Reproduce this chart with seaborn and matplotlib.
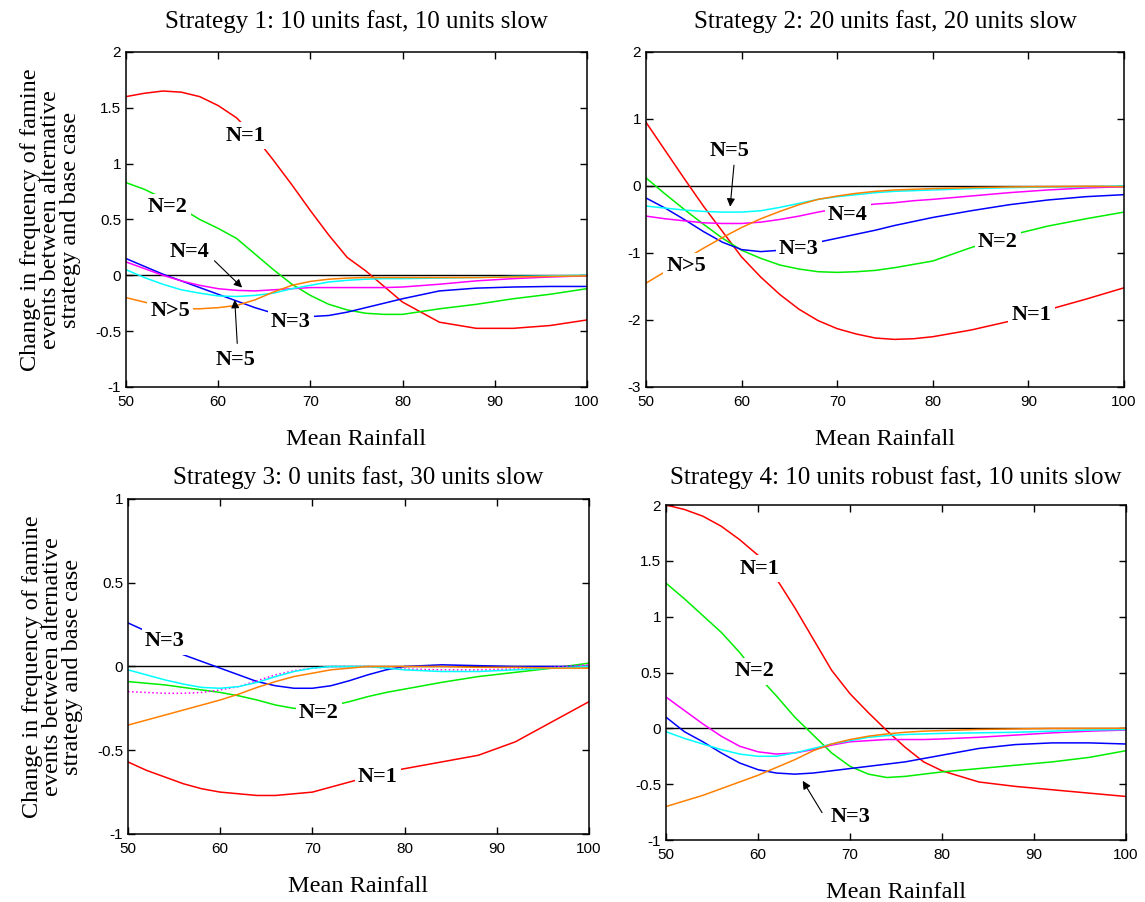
import matplotlib
matplotlib.use("Agg")
import matplotlib.pyplot as plt
import matplotlib.patheffects as pe
from matplotlib import font_manager
from matplotlib.ticker import FormatStrFormatter, MultipleLocator
import numpy as np
import pandas as pd
import seaborn as sns

# mean rainfall sample points (shared by every curve)
rainfall = [50, 52, 54, 56, 58, 60, 62, 64, 66, 68, 70, 72, 74, 76, 78, 80, 84, 88, 92, 96, 100]
series_names = ["N=1", "N=2", "N=3", "N=4", "N=5", "N>5"]

# Strategy 1: 10 units fast, 10 units slow
s1_n1 = [1.60, 1.63, 1.65, 1.64, 1.60, 1.52, 1.41, 1.24, 1.03, 0.81, 0.58, 0.36, 0.16, 0.04, -0.10, -0.24, -0.42, -0.475, -0.475, -0.45, -0.40]
s1_n2 = [0.83, 0.77, 0.69, 0.60, 0.50, 0.42, 0.33, 0.19, 0.05, -0.08, -0.18, -0.26, -0.31, -0.34, -0.35, -0.35, -0.30, -0.26, -0.21, -0.17, -0.12]
s1_n3 = [0.15, 0.08, 0.01, -0.05, -0.11, -0.17, -0.23, -0.29, -0.34, -0.37, -0.37, -0.36, -0.33, -0.29, -0.25, -0.21, -0.14, -0.115, -0.105, -0.10, -0.10]
s1_n4 = [0.12, 0.06, 0.0, -0.05, -0.09, -0.12, -0.135, -0.14, -0.13, -0.12, -0.11, -0.11, -0.11, -0.11, -0.11, -0.105, -0.08, -0.05, -0.03, -0.015, -0.005]
s1_n5 = [0.05, -0.02, -0.08, -0.13, -0.16, -0.185, -0.19, -0.18, -0.16, -0.12, -0.09, -0.06, -0.045, -0.035, -0.03, -0.03, -0.025, -0.02, -0.01, -0.005, 0.0]
s1_n6 = [-0.20, -0.24, -0.28, -0.30, -0.30, -0.29, -0.27, -0.22, -0.15, -0.09, -0.055, -0.035, -0.025, -0.02, -0.02, -0.02, -0.02, -0.02, -0.015, -0.01, -0.005]

# Strategy 2: 20 units fast, 20 units slow
s2_n1 = [0.95, 0.53, 0.11, -0.30, -0.68, -1.06, -1.36, -1.62, -1.84, -2.01, -2.13, -2.21, -2.27, -2.29, -2.28, -2.25, -2.15, -2.02, -1.85, -1.69, -1.52]
s2_n2 = [0.12, -0.12, -0.35, -0.57, -0.78, -0.96, -1.08, -1.18, -1.24, -1.28, -1.29, -1.28, -1.26, -1.22, -1.17, -1.12, -0.92, -0.74, -0.60, -0.49, -0.39]
s2_n3 = [-0.18, -0.33, -0.50, -0.68, -0.84, -0.95, -0.98, -0.96, -0.90, -0.84, -0.78, -0.72, -0.66, -0.59, -0.53, -0.47, -0.37, -0.28, -0.21, -0.16, -0.13]
s2_n4 = [-0.45, -0.49, -0.52, -0.55, -0.56, -0.56, -0.54, -0.50, -0.45, -0.39, -0.34, -0.30, -0.27, -0.25, -0.22, -0.20, -0.15, -0.10, -0.06, -0.03, -0.01]
s2_n5 = [-0.30, -0.33, -0.36, -0.38, -0.39, -0.39, -0.37, -0.32, -0.26, -0.20, -0.16, -0.13, -0.10, -0.08, -0.07, -0.06, -0.04, -0.025, -0.015, -0.01, 0.0]
s2_n6 = [-1.45, -1.28, -1.10, -0.93, -0.77, -0.62, -0.49, -0.38, -0.28, -0.20, -0.15, -0.11, -0.08, -0.06, -0.05, -0.04, -0.025, -0.015, -0.01, -0.005, -0.01]

# Strategy 3: 0 units fast, 30 units slow
s3_n1 = [-0.57, -0.62, -0.66, -0.70, -0.73, -0.75, -0.76, -0.77, -0.77, -0.76, -0.75, -0.72, -0.69, -0.66, -0.63, -0.61, -0.57, -0.53, -0.45, -0.33, -0.21]
s3_n2 = [-0.09, -0.10, -0.11, -0.125, -0.14, -0.155, -0.175, -0.20, -0.23, -0.25, -0.25, -0.235, -0.21, -0.18, -0.155, -0.135, -0.095, -0.06, -0.035, -0.01, 0.02]
s3_n3 = [0.26, 0.21, 0.13, 0.07, 0.03, -0.01, -0.05, -0.09, -0.115, -0.13, -0.13, -0.115, -0.085, -0.05, -0.02, 0.0, 0.01, 0.005, 0.0, 0.0, 0.0]
s3_n4 = [-0.15, -0.155, -0.16, -0.16, -0.155, -0.14, -0.12, -0.085, -0.05, -0.025, -0.01, 0.0, 0.0, 0.0, -0.01, -0.015, -0.02, -0.02, -0.015, -0.005, 0.01]
s3_n5 = [-0.02, -0.05, -0.08, -0.105, -0.125, -0.13, -0.12, -0.095, -0.06, -0.03, -0.01, 0.0, 0.0, 0.0, -0.01, -0.02, -0.03, -0.03, -0.02, -0.01, 0.0]
s3_n6 = [-0.35, -0.32, -0.29, -0.26, -0.23, -0.20, -0.165, -0.125, -0.09, -0.06, -0.04, -0.02, -0.01, 0.0, 0.0, 0.0, 0.0, -0.005, -0.005, -0.01, -0.01]

# Strategy 4: 10 units robust fast, 10 units slow
s4_n1 = [2.0, 1.96, 1.90, 1.81, 1.69, 1.55, 1.34, 1.08, 0.80, 0.52, 0.31, 0.14, -0.02, -0.17, -0.30, -0.38, -0.48, -0.52, -0.55, -0.58, -0.61]
s4_n2 = [1.30, 1.16, 1.01, 0.86, 0.68, 0.47, 0.29, 0.10, -0.06, -0.22, -0.34, -0.41, -0.44, -0.43, -0.41, -0.39, -0.36, -0.33, -0.30, -0.26, -0.20]
s4_n3 = [0.10, -0.03, -0.12, -0.22, -0.31, -0.37, -0.40, -0.41, -0.40, -0.38, -0.36, -0.34, -0.32, -0.30, -0.27, -0.24, -0.18, -0.145, -0.13, -0.13, -0.14]
s4_n4 = [0.28, 0.16, 0.04, -0.07, -0.16, -0.21, -0.23, -0.22, -0.19, -0.15, -0.12, -0.11, -0.10, -0.10, -0.10, -0.095, -0.08, -0.06, -0.04, -0.025, -0.015]
s4_n5 = [-0.03, -0.09, -0.14, -0.19, -0.23, -0.25, -0.25, -0.22, -0.18, -0.14, -0.11, -0.08, -0.065, -0.055, -0.05, -0.045, -0.04, -0.035, -0.025, -0.015, -0.01]
s4_n6 = [-0.70, -0.65, -0.60, -0.54, -0.48, -0.42, -0.35, -0.28, -0.20, -0.14, -0.10, -0.07, -0.05, -0.035, -0.025, -0.02, -0.01, -0.005, 0.0, 0.0, 0.0]

titles = ["Strategy 1: 10 units fast, 10 units slow",
          "Strategy 2: 20 units fast, 20 units slow",
          "Strategy 3: 0 units fast, 30 units slow",
          "Strategy 4: 10 units robust fast, 10 units slow"]
ylabel = "Change in frequency of famine\nevents between alternative\nstrategy and base case"
xlabel = "Mean Rainfall"

colors = {"N=1": "#ff0000", "N=2": "#00ee00", "N=3": "#0000ff",
          "N=4": "#ff00ff", "N=5": "#00ffff", "N>5": "#ff8000"}


def make_frame(values):
    rows = []
    for name, ys in zip(series_names, values):
        for x, y in zip(rainfall, ys):
            rows.append({"rainfall": x, "change": y, "series": name})
    return pd.DataFrame(rows)


panels = [
    make_frame([s1_n1, s1_n2, s1_n3, s1_n4, s1_n5, s1_n6]),
    make_frame([s2_n1, s2_n2, s2_n3, s2_n4, s2_n5, s2_n6]),
    make_frame([s3_n1, s3_n2, s3_n3, s3_n4, s3_n5, s3_n6]),
    make_frame([s4_n1, s4_n2, s4_n3, s4_n4, s4_n5, s4_n6]),
]

# curve labels: (x, y, text), arrows: (text xy, tip xy)
labels = [
    [(63.0, 1.25, "N=1"), (54.5, 0.61, "N=2"), (56.9, 0.21, "N=4"),
     (54.8, -0.32, "N>5"), (67.9, -0.42, "N=3"), (61.9, -0.755, "N=5")],
    [(58.7, 0.52, "N=5"), (71.1, -0.44, "N=4"), (66.0, -0.94, "N=3"),
     (54.2, -1.2, "N>5"), (86.8, -0.83, "N=2"), (90.3, -1.92, "N=1")],
    [(54.0, 0.15, "N=3"), (70.7, -0.28, "N=2"), (77.1, -0.66, "N=1")],
    [(60.2, 1.43, "N=1"), (59.6, 0.51, "N=2"), (70.1, -0.79, "N=3")],
]
arrows = [
    [((59.6, 0.13), (62.6, -0.11)), ((62.07, -0.61), (61.8, -0.22))],
    [((59.2, 0.31), (58.8, -0.31))],
    [],
    [((66.96, -0.755), (64.86, -0.47))],
]
ylims = [(-1, 2), (-3, 2), (-1, 1), (-1, 2)]
ysteps = [0.5, 1, 0.5, 0.5]
title_pads = [17, 17, 11, 15]
rects = [
    [0.110, 0.571, 0.4026, 0.3714],
    [0.5642, 0.571, 0.4175, 0.3714],
    [0.1118, 0.0754, 0.4026, 0.3714],
    [0.5817, 0.0687, 0.4017, 0.3714],
]

sns.set_theme(style="ticks")
plt.rcParams["font.family"] = ["Liberation Serif", "DejaVu Serif"]
plt.rcParams["axes.unicode_minus"] = False

# bold serif for the curve labels; fake it with a stroke if no bold file exists
bold_path = font_manager.findfont(
    font_manager.FontProperties(family="Liberation Serif", weight="bold"))
if "bold" in bold_path.lower():
    label_font = font_manager.FontProperties(fname=bold_path, size=16)
    label_fx = []
else:
    label_font = font_manager.FontProperties(family="Liberation Serif", size=16)
    label_fx = [pe.withStroke(linewidth=0.7, foreground="black")]

fig = plt.figure(figsize=(11.45, 9.02), dpi=100)

for i in range(4):
    ax = fig.add_axes(rects[i])
    df = panels[i]
    ax.axhline(0, color="black", lw=1.0, zorder=1)
    for name in series_names:
        sub = df[df["series"] == name]
        ls = ":" if (i == 2 and name == "N=4") else "-"
        sns.lineplot(data=sub, x="rainfall", y="change", color=colors[name],
                     linewidth=1.1, linestyle=ls, ax=ax, zorder=2)
    ax.set_xlim(50, 100)
    ax.set_ylim(*ylims[i])
    ax.xaxis.set_major_locator(MultipleLocator(10))
    ax.yaxis.set_major_locator(MultipleLocator(ysteps[i]))
    ax.yaxis.set_major_formatter(FormatStrFormatter("%g"))
    ax.tick_params(direction="in", top=True, right=True, length=5, width=1.0,
                   colors="black", labelsize=11, labelfontfamily="Liberation Sans")
    ax.tick_params(axis="x", pad=6)
    for sp in ax.spines.values():
        sp.set_color("black")
        sp.set_linewidth(1.1)
    ax.set_title(titles[i], fontsize=18, pad=title_pads[i], color="black")
    ax.set_xlabel(xlabel, fontsize=17.5, labelpad=14, color="black")
    if i in (0, 2):
        ax.set_ylabel(ylabel, fontsize=17.5, labelpad=10, linespacing=0.95, color="black")
    else:
        ax.set_ylabel("")
    for x, y, t in labels[i]:
        ax.text(x, y, t, fontproperties=label_font, color="black", ha="center",
                va="center", zorder=5, path_effects=label_fx,
                bbox=dict(boxstyle="square,pad=0.15", fc="white", ec="none"))
    for start, tip in arrows[i]:
        ax.annotate("", xy=tip, xytext=start, zorder=6,
                    arrowprops=dict(arrowstyle="-|>", color="black", lw=0.8,
                                    mutation_scale=12, shrinkA=0, shrinkB=0))

fig.savefig("out.png", dpi=100)
